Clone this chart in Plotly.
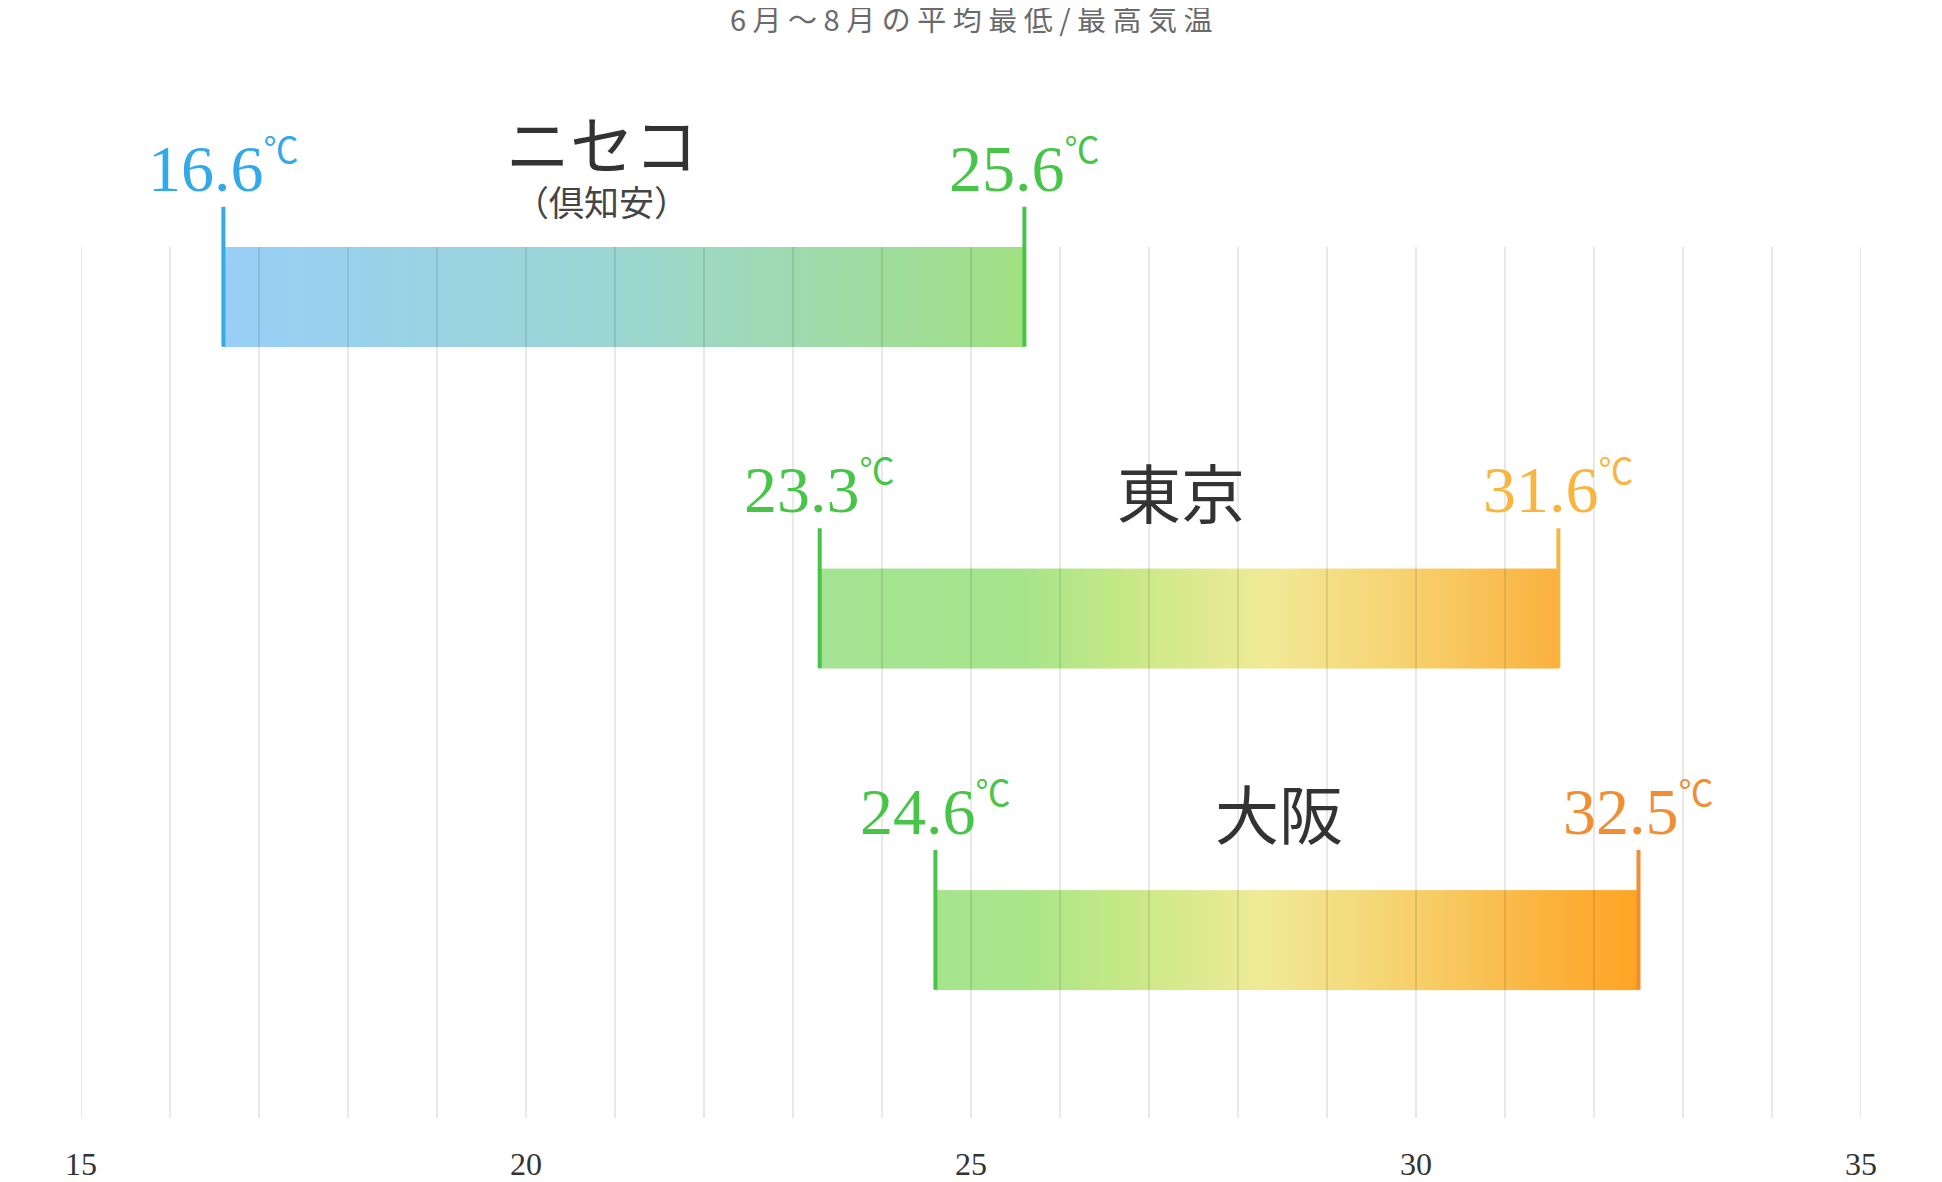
import numpy as np
import plotly.graph_objects as go

# ---------------- data ----------------
title_text = "6月〜8月の平均最低/最高気温"
cities = ["ニセコ", "東京", "大阪"]
subtitles = ["（倶知安）", "", ""]
low_temps = [16.6, 23.3, 24.6]
high_temps = [25.6, 31.6, 32.5]
x_tick_vals = [15, 20, 25, 30, 35]
grid_vals = list(range(15, 36))

# ---------------- style ----------------
low_colors = ["#34A9EA", "#48C548", "#48C548"]
high_colors = ["#48C548", "#F8B640", "#F18D32"]
name_xshift = [-22, -8, -8]
bar_scales = [
    [(16.6, "#99CEF7"), (21.0, "#9CD6D2"), (25.6, "#A0E082")],
    [(23.3, "#A3E393"), (25.6, "#A6E48A"), (26.6, "#C3E886"), (28.3, "#F0EA97"),
     (29.8, "#F7D372"), (31.6, "#FAB13D")],
    [(24.6, "#A6E48E"), (25.6, "#A9E58A"), (26.6, "#C3E886"), (28.3, "#F0EA97"),
     (30.0, "#F7CF6A"), (31.5, "#FBB23C"), (32.5, "#FFA425")],
]
BAR_HALF = 0.155
MARK_TOP = 0.28
LABEL_OFF = 0.40
Y_RANGE = [2.5537, -0.8983]
SERIF = "Liberation Serif, Noto Sans CJK JP, serif"
CJK = "Noto Sans CJK JP, sans-serif"

fig = go.Figure()

for i, (lo, hi) in enumerate(zip(low_temps, high_temps)):
    n = 300
    xe = np.linspace(lo, hi, n + 1)
    xc = (xe[:-1] + xe[1:]) / 2
    stops = bar_scales[i]
    t0, t1 = stops[0][0], stops[-1][0]
    cs = [[(t - t0) / (t1 - t0), c] for t, c in stops]
    fig.add_trace(go.Heatmap(
        x=xe, y=[i - BAR_HALF, i + BAR_HALF], z=[xc],
        colorscale=cs, zmin=t0, zmax=t1, showscale=False,
        hoverinfo="skip", zsmooth=False,
    ))
    for v, col in ((lo, low_colors[i]), (hi, high_colors[i])):
        fig.add_trace(go.Scatter(
            x=[v, v], y=[i - MARK_TOP, i + BAR_HALF], mode="lines",
            line=dict(color=col, width=4), hoverinfo="skip", showlegend=False,
        ))
        fig.add_annotation(
            x=v, y=i - LABEL_OFF, xref="x", yref="y", showarrow=False,
            text=f"{v:.1f}<sup><span style='font-size:35px'>℃</span></sup>",
            font=dict(family=SERIF, size=66, color=col),
            xanchor="center", yanchor="middle",
        )
    mid = (lo + hi) / 2
    name_off = 0.485 if subtitles[i] else LABEL_OFF
    fig.add_annotation(
        x=mid, y=i - name_off, xref="x", yref="y", showarrow=False,
        text=cities[i], font=dict(family=CJK, size=64, color="#333333"),
        xanchor="center", yanchor="middle", xshift=name_xshift[i],
    )
    if subtitles[i]:
        fig.add_annotation(
            x=mid, y=i - 0.30, xref="x", yref="y", showarrow=False,
            text=subtitles[i], font=dict(family=CJK, size=35, color="#444444"),
            xanchor="center", yanchor="middle", xshift=name_xshift[i],
        )

# grid lines drawn over the bars
for g in grid_vals:
    fig.add_shape(type="line", x0=g, x1=g, y0=-BAR_HALF, y1=Y_RANGE[0],
                  xref="x", yref="y", layer="above",
                  line=dict(color="rgba(0,0,0,0.09)", width=2))

fig.add_annotation(
    x=0.5, y=1, xref="paper", yref="paper", showarrow=False,
    text=" ".join(title_text), font=dict(family=CJK, size=29, color="#6A6A6A"),
    xanchor="center", yanchor="middle", yshift=-10,
)

fig.update_layout(
    width=1934, height=1174,
    margin=dict(l=73, r=81, t=0, b=46),
    paper_bgcolor="white", plot_bgcolor="white",
    showlegend=False,
    xaxis=dict(range=[15, 35], tickvals=x_tick_vals, showgrid=False,
               zeroline=False, showline=False, ticks="",
               ticklabelstandoff=24,
               tickfont=dict(family=SERIF, size=32, color="#333333")),
    yaxis=dict(range=Y_RANGE, visible=False, showgrid=False, zeroline=False),
)

fig.write_html("out.html")
